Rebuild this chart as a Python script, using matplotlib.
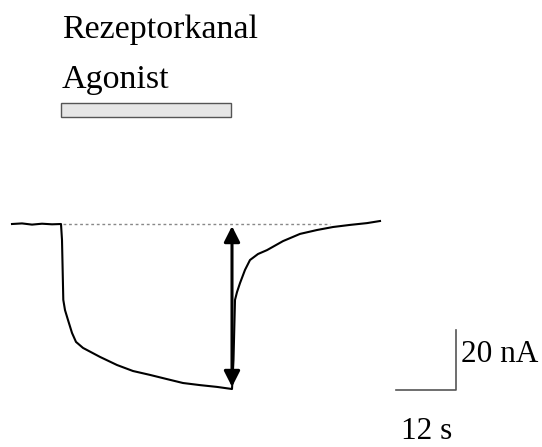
import matplotlib.pyplot as plt
from matplotlib.patches import Rectangle, FancyArrowPatch

plt.rcParams['font.family'] = ['Liberation Serif', 'DejaVu Serif']

# current trace: time (s) and current (nA)
t = [0.0, 2.0, 4.0, 6.0, 8.0, 9.8, 10.0, 10.26, 10.6, 11.2, 12.0, 12.8, 14.2,
     17.6, 21.0, 24.2, 27.6, 31.0, 34.2, 37.6, 41.0, 44.0,
     44.3, 44.6, 45.0, 45.6, 46.6, 47.6, 49.2, 51.0, 54.2, 57.6, 61.0,
     64.2, 67.6, 71.0, 73.6]
current = [0.0, 0.2, -0.2, 0.1, -0.1, 0.0, -5.3, -25.3, -28.7, -32.0, -36.3,
           -39.3, -41.3, -44.3, -47.0, -49.0, -50.3, -51.7, -53.0, -53.7,
           -54.3, -55.0,
           -45.3, -25.3, -22.7, -19.7, -15.3, -12.0, -10.0, -8.7, -5.7,
           -3.3, -2.0, -1.0, -0.3, 0.3, 1.0]

# agonist application window (s)
agonist_on, agonist_off = 9.8, 43.9
# peak amplitude measured at the end of application
peak_t = 44.0
peak_top, peak_bottom = -0.7, -54.3

# scale bars
bar_t = 12   # s
bar_i = 20   # nA

fig = plt.figure(figsize=(5.42, 4.47), dpi=100)
ax = fig.add_axes([0, 0, 1, 1])
ax.set_xlim(-2.4, 106)
ax.set_ylim(-74.33, 74.67)
ax.axis('off')

# baseline reference
ax.plot([10.2, 63.6], [0, 0], color='#888888', lw=1, ls=(0, (2, 2)))

ax.plot(t, current, color='black', lw=1.5)

# amplitude arrow
arr = FancyArrowPatch((peak_t, peak_bottom), (peak_t, peak_top),
                      arrowstyle='<|-|>,head_length=0.95,head_width=0.48',
                      mutation_scale=10, lw=2.2, color='black',
                      shrinkA=0, shrinkB=0)
ax.add_patch(arr)

# agonist bar
ax.add_patch(Rectangle((agonist_on, 35.8), agonist_off - agonist_on, 4.5,
                       facecolor='#e6e6e6', edgecolor='#555555', lw=1))

fs = 24.5
ax.text(10.0, 62, 'Rezeptorkanal', fontsize=fs, ha='left', va='baseline')
ax.text(10.0, 45.3, 'Agonist', fontsize=fs, ha='left', va='baseline')

# scale bars
sx, sy = 76.8, -55.3
ax.plot([sx, sx + bar_t, sx + bar_t], [sy, sy, sy + bar_i],
        color='#555555', lw=1.2)
ax.text(sx + bar_t + 1.0, -46, '%d nA' % bar_i, fontsize=22.5,
        ha='left', va='baseline')
ax.text(77.8, -71.6, '%d s' % bar_t, fontsize=22.5, ha='left', va='baseline')

fig.savefig('out.png', dpi=100)
